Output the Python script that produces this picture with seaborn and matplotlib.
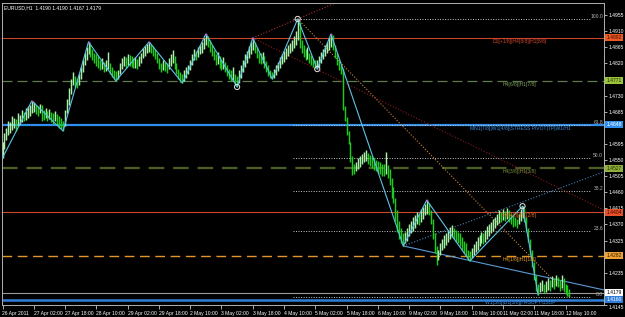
import numpy as np
import pandas as pd
import matplotlib
matplotlib.use("Agg")
import matplotlib.pyplot as plt
import matplotlib.transforms as mtransforms
import seaborn as sns

# ---------------- data (prices in pips above 1.4000) ----------------
HIGH_PIPS = [600,625,640,660,655,672,668,665,680,676,690,684,695,700,705,715,
             712,705,700,706,705,690,695,688,692,685,680,686,678,672,668,660,
             690,720,750,775,796,785,780,790,810,830,850,865,880,
             872,860,850,845,840,830,835,825,830,852,820,810,800,798,
             800,820,835,840,838,845,842,840,836,838,832,840,850,862,868,875,880,
             875,868,860,850,835,820,830,825,820,835,845,857,840,820,805,795,790,
             800,810,815,830,845,860,855,865,872,880,890,902,
             895,885,870,858,845,852,840,830,838,825,815,805,800,810,790,785,
             800,815,830,845,855,868,880,891,
             880,865,850,848,852,840,826,815,800,795,
             805,815,825,838,845,855,862,870,878,885,895,910,944,
             935,885,870,860,865,850,842,835,828,830,
             840,852,860,870,880,892,902,
             898,870,848,830,815,808,700,670,630,600,560,
             540,545,555,560,568,572,578,
             570,565,560,555,550,548,545,540,538,572,535,525,500,475,445,410,380,360,345,
             350,360,372,380,390,395,405,400,412,420,428,438,
             430,410,385,345,310,
             300,318,330,340,345,355,362,368,
             360,355,348,345,335,325,318,300,295,
             305,315,325,335,340,350,345,355,365,370,378,385,392,400,410,405,412,408,415,410,400,395,390,385,400,412,421,
             415,390,360,330,300,265,230,205,
             210,215,205,212,220,215,225,220,229,222,215,230,220,205,200,190]
LOW_PIPS = [556,580,605,620,625,635,640,632,645,650,655,660,662,668,672,680,
            685,678,672,680,660,662,668,660,665,655,650,658,648,640,636,631,
            645,680,705,735,760,755,752,760,775,795,815,830,845,
            838,828,820,812,808,800,805,795,798,805,790,782,776,771,
            775,790,805,812,808,815,812,810,806,808,804,812,822,835,840,848,852,
            850,840,832,820,805,795,800,798,792,805,812,820,805,790,775,768,765,
            770,780,790,800,815,828,830,838,845,850,860,870,
            865,852,840,828,815,818,808,800,805,795,785,775,770,772,760,754,
            765,780,795,810,820,835,845,858,
            848,835,822,818,820,808,795,785,780,776,
            780,788,798,808,818,825,832,840,848,855,862,870,885,
            862,850,838,830,832,820,815,810,806,804,
            810,822,832,840,850,858,865,
            858,835,815,800,790,690,660,620,595,545,508,
            510,518,525,530,540,545,548,
            540,532,528,522,520,515,510,506,505,510,500,480,445,430,380,350,330,318,310,
            318,325,338,345,352,360,370,368,378,385,395,400,
            395,370,330,290,257,
            270,285,298,305,312,320,328,335,
            330,322,318,310,300,290,282,272,268,
            275,285,292,300,310,318,315,322,330,338,345,352,360,368,375,378,382,380,385,378,370,362,365,360,370,380,388,
            378,350,320,285,250,215,185,173,
            180,185,178,182,188,185,195,190,198,195,185,192,185,175,170,167]

XTICK_BARS = list(range(0, 289, 16))
XTICK_LABELS = ["26 Apr 2011", "27 Apr 02:00", "27 Apr 18:00", "28 Apr 10:00",
                "29 Apr 02:00", "29 Apr 18:00", "2 May 10:00", "3 May 02:00",
                "3 May 18:00", "4 May 10:00", "5 May 02:00", "5 May 18:00",
                "6 May 10:00", "9 May 02:00", "9 May 18:00", "10 May 10:00",
                "11 May 02:00", "11 May 18:00", "12 May 10:00"]
# price scale labels (those hidden under the level boxes are left out)
YTICKS = [1.4955, 1.4910, 1.4865, 1.4820, 1.4730, 1.4685, 1.4595, 1.4550,
          1.4505, 1.4460, 1.4415, 1.4370, 1.4325, 1.4235, 1.4145]

# zigzag swing points (bar index, price)
ZZ_BAR = [0, 15, 31, 44, 58, 75, 92, 104, 120, 128, 138, 151, 161, 168, 205, 217, 239, 266, 274]
ZZ_PIPS = [556, 715, 631, 880, 771, 880, 765, 902, 754, 891, 776, 944, 804, 902, 310, 438, 268, 421, 173]

# horizontal level lines
LEVEL_PRICE = [1.4892, 1.4771, 1.4648, 1.4527, 1.4404, 1.4282, 1.4179, 1.4160]
LEVEL_COLOR = ["#C8452D", "#5E7A4E", "#2F8FEF", "#4B5E24", "#D0482C", "#E2962A", "#9A9A9A", "#2F7FD8"]
LEVEL_STYLE = ["-", (0, (8, 4)), "-", (0, (7, 4)), "-", (0, (7, 4)), "-", "-"]
LEVEL_WIDTH = [0.8, 0.9, 1.6, 1.6, 0.8, 1.0, 0.8, 1.8]
BOX_FACE = ["#EE5A24", "#9CC43A", "#2F8FEF", "#8FAE3A", "#E8502A", "#F0A030", "#FFFFFF", "#2F7FD8"]
BOX_TEXT = ["#3A0A00", "#1A2A00", "#FFFFFF", "#1A2A00", "#3A0A00", "#2A1A00", "#000000", "#FFFFFF"]

# level captions
CAP_TEXT = ["D1[+1/8]|H4[8/8]|H1[8/8]", "H4[6/8]|H1[7/8]",
            "MN1[7/8]|W1[4/8]|STRESS PIVOT|TP|W1/H1", "H4[3/8]|H1[3/8]",
            "H4[4/8]|H1[2/8]", "H4[1/8]|H1[1/8]", "W1[5/8]|D1[5/8]|H4SUP H1SUP"]
CAP_PRICE = [1.4882, 1.4760, 1.4639, 1.4517, 1.4396, 1.4271, 1.4151]
CAP_COLOR = ["#D2452D", "#7BA05B", "#3A8FE0", "#7A8B3A", "#E07020", "#E69A28", "#3A8FE0"]

# fibonacci retracement
FIB_HIGH, FIB_LOW = 1.4944, 1.4167
FIB_LEVELS = [100.0, 61.8, 50.0, 38.2, 23.6, 0.0]
FIB_START_BAR = 148.5

# circles
CIRC_BAR = [120, 151, 161, 266]
CIRC_PIPS = [754, 944, 804, 421]

HEADER = "EURUSD,H1  1.4190 1.4190 1.4167 1.4179"

# ---------------- style ----------------
sns.set_theme(style="dark", rc={"axes.facecolor": "black", "figure.facecolor": "black",
                                "axes.grid": False})
plt.rcParams["font.family"] = ["Liberation Sans", "DejaVu Sans"]

W, H = 625, 317
fig = plt.figure(figsize=(W / 100, H / 100), dpi=100)
fig.patch.set_facecolor("black")
ax = fig.add_axes([2 / W, 12 / H, 602 / W, 302 / H])
ax.set_facecolor("black")

X0PX, DX = 2.5, 1.955
def px2i(px):
    return (px - X0PX) / DX

ax.set_xlim(px2i(2), px2i(604))
ax.set_ylim(1.4145, 1.49885)

hi = 1.4 + np.array(HIGH_PIPS) / 10000
lo = 1.4 + np.array(LOW_PIPS) / 10000
idx = np.arange(len(hi))
df = pd.DataFrame({"bar": idx, "high": hi, "low": lo})
mid = (df.high + df.low) / 2
up = mid.diff().fillna(0) >= 0
cols = np.where(up, "#A8F0A8", "#1ECB1E")

# horizontal levels (behind bars)
for p, c, s, w in zip(LEVEL_PRICE, LEVEL_COLOR, LEVEL_STYLE, LEVEL_WIDTH):
    ax.axhline(p, color=c, ls=s, lw=w, zorder=1)

# fibonacci dotted levels
xr = px2i(590)
for lv in FIB_LEVELS:
    p = FIB_LOW + (FIB_HIGH - FIB_LOW) * lv / 100
    ax.plot([FIB_START_BAR, xr], [p, p], color="#C8C8C8", ls=(0, (1, 1.6)), lw=0.7, zorder=1)
    ax.text(px2i(603), p, f"{lv:.1f}", color="#B8B8B8", fontsize=3.6, ha="right", va="bottom", zorder=5)

# trendlines
def line_through(b1, p1, b2, p2, bx0, bx1):
    s = (p2 - p1) / (b2 - b1)
    return [bx0, bx1], [p1 + s * (bx0 - b1), p1 + s * (bx1 - b1)]

xe = px2i(604)
tl = [
    (line_through(128, 1.4891, 151, 1.4944, 128, 175), "#B03030"),
    (line_through(128, 1.4891, 307.7, 1.4410, 128, xe), "#8B1A1A"),
    (line_through(151, 1.4944, 286.7, 1.4187, 151, 290), "#CD853F"),
    (line_through(205, 1.4310, 307.7, 1.4517, 205, xe), "#4682B4"),
]
for (xs, ys), c in tl:
    ax.plot(xs, ys, color=c, ls=(0, (1, 1.6)), lw=0.8, zorder=2)
xs, ys = line_through(205, 1.4310, 307.7, 1.4187, 205, xe)
ax.plot(xs, ys, color="#5B9BD5", lw=0.8, zorder=2)

# price bars
ax.vlines(df.bar, df.low, df.high, colors=cols, lw=1.05, zorder=3)

# zigzag
zz = pd.DataFrame({"bar": ZZ_BAR, "price": 1.4 + np.array(ZZ_PIPS) / 10000})
sns.lineplot(data=zz, x="bar", y="price", sort=False, estimator=None, ax=ax,
             color="#5EC4E6", lw=0.8, zorder=4)
sel = [1, 3, 5, 7, 9, 13, 15]
ax.scatter(zz.bar[sel], zz.price[sel], s=1.5, color="#E040E0", zorder=4, linewidths=0)

# circles
cc = pd.DataFrame({"bar": CIRC_BAR, "price": 1.4 + np.array(CIRC_PIPS) / 10000})
sns.scatterplot(data=cc, x="bar", y="price", ax=ax, s=14, facecolor="none",
                edgecolor="#E8E8E8", linewidth=0.7, zorder=6)

# captions
for t, p, c in zip(CAP_TEXT, CAP_PRICE, CAP_COLOR):
    ax.text(px2i(520), p, t, color=c, fontsize=3.6, ha="center", va="center", zorder=5)

ax.text(0.004, 0.992, HEADER, transform=ax.transAxes, color="white", fontsize=3.6,
        ha="left", va="top", zorder=7)

# axes
ax.set_xlabel("")
ax.set_ylabel("")
ax.set_xticks(XTICK_BARS)
ax.set_xticklabels(XTICK_LABELS)
for lb in ax.get_xticklabels():
    lb.set_ha("left")
ax.yaxis.tick_right()
ax.set_yticks(YTICKS)
ax.set_yticklabels([f"{v:.4f}" for v in YTICKS])
ax.tick_params(axis="x", colors="#C8C8C8", labelcolor="white", labelsize=3.6,
               length=3, width=0.6, pad=1.2, direction="out", bottom=True)
ax.tick_params(axis="y", colors="#C8C8C8", labelcolor="white", labelsize=3.6,
               length=2, width=0.6, pad=1.5, direction="out", right=True, left=False)
for lb in ax.get_yticklabels():
    if lb.get_text() == "1.4145":
        lb.set_va("top")
for sp in ax.spines.values():
    sp.set_visible(True)
    sp.set_color("#B0B0B0")
    sp.set_linewidth(0.7)

trans = mtransforms.blended_transform_factory(ax.transAxes, ax.transData)
for p, fc, tc in zip(LEVEL_PRICE, BOX_FACE, BOX_TEXT):
    ax.text(1.004, p, f"{p:.4f}", transform=trans, color=tc, fontsize=3.6,
            ha="left", va="center", clip_on=False, zorder=8,
            bbox=dict(boxstyle="square,pad=0.2", fc=fc, ec="none"))

fig.savefig("out.png", dpi=100, facecolor="black")
